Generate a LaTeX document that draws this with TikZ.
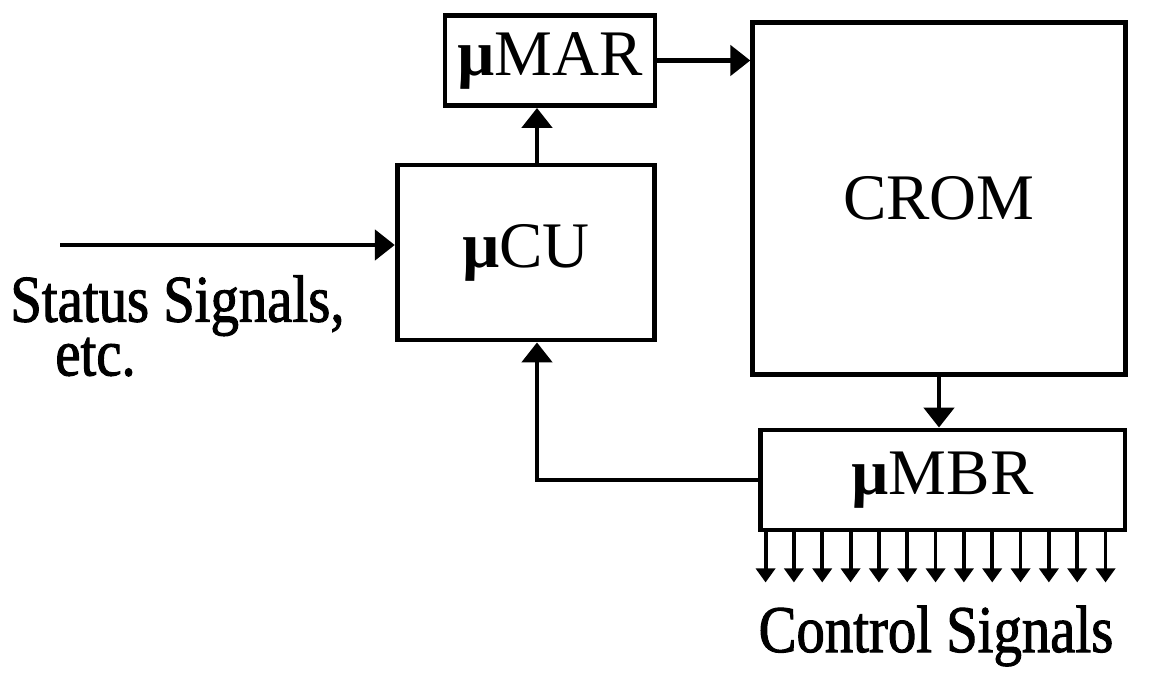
\documentclass[tikz,border=0pt]{standalone}
\usepackage{fontspec}
\setmainfont{Liberation Serif}
\newfontfamily\signalfont[FakeStretch=0.85,FakeBold=1.5]{Liberation Serif}
\usetikzlibrary{arrows.meta}

\begin{document}
\begin{tikzpicture}[x=0.02cm,y=0.02cm,
  reg/.style={draw=black,line width=2.8pt,inner sep=0pt,font=\fontsize{37}{40}\selectfont},
  flow/.style={draw=black,line width=2.8pt,-{Triangle[length=0.4cm,width=0.6cm]}},
  ctrl/.style={draw=black,line width=2.2pt,-{Triangle[length=0.28cm,width=0.38cm]}},
  sigtext/.style={font=\signalfont\fontsize{38}{28.5}\selectfont,inner sep=0pt}]
\useasboundingbox (0,0) rectangle (1153,673);
\node[reg,minimum width=4.2cm,minimum height=1.8cm] (mar) at (550,612.5) {\textbf{µ}MAR};
\node[reg,minimum width=5.15cm,minimum height=3.5cm] (cu) at (526,420.5) {\textbf{µ}CU};
\node[reg,minimum width=7.45cm,minimum height=7.05cm] (crom) at (939,474.5) {CROM};
\node[reg,minimum width=7.3cm,minimum height=2.0cm] (mbr) at (942.5,193) {\textbf{µ}MBR};
\coordinate (tap) at ([xshift=0.22cm]cu.north);
\coordinate (statusin) at (60,428);
\draw[flow] (tap) -- (tap |- mar.south);
\draw[flow] (mar.east) -- (mar.east -| crom.west);
\draw[flow] (crom.south) -- (crom.south |- mbr.north);
\draw[flow] (mbr.west) -| ([xshift=0.22cm]cu.south);
\draw[flow] (statusin) -- (statusin -| cu.west);
\foreach \i in {0,...,12}
  \draw[ctrl] (mbr.south west) ++(8+28.33*\i,0) -- ++(0,-50);
\node[sigtext,align=left,anchor=north west] (status) at (10,398) {Status Signals,\\\hspace{0.9cm}etc.};
\node[sigtext,anchor=base] (ctrltext) at (936,21) {Control Signals};
\end{tikzpicture}
\end{document}
